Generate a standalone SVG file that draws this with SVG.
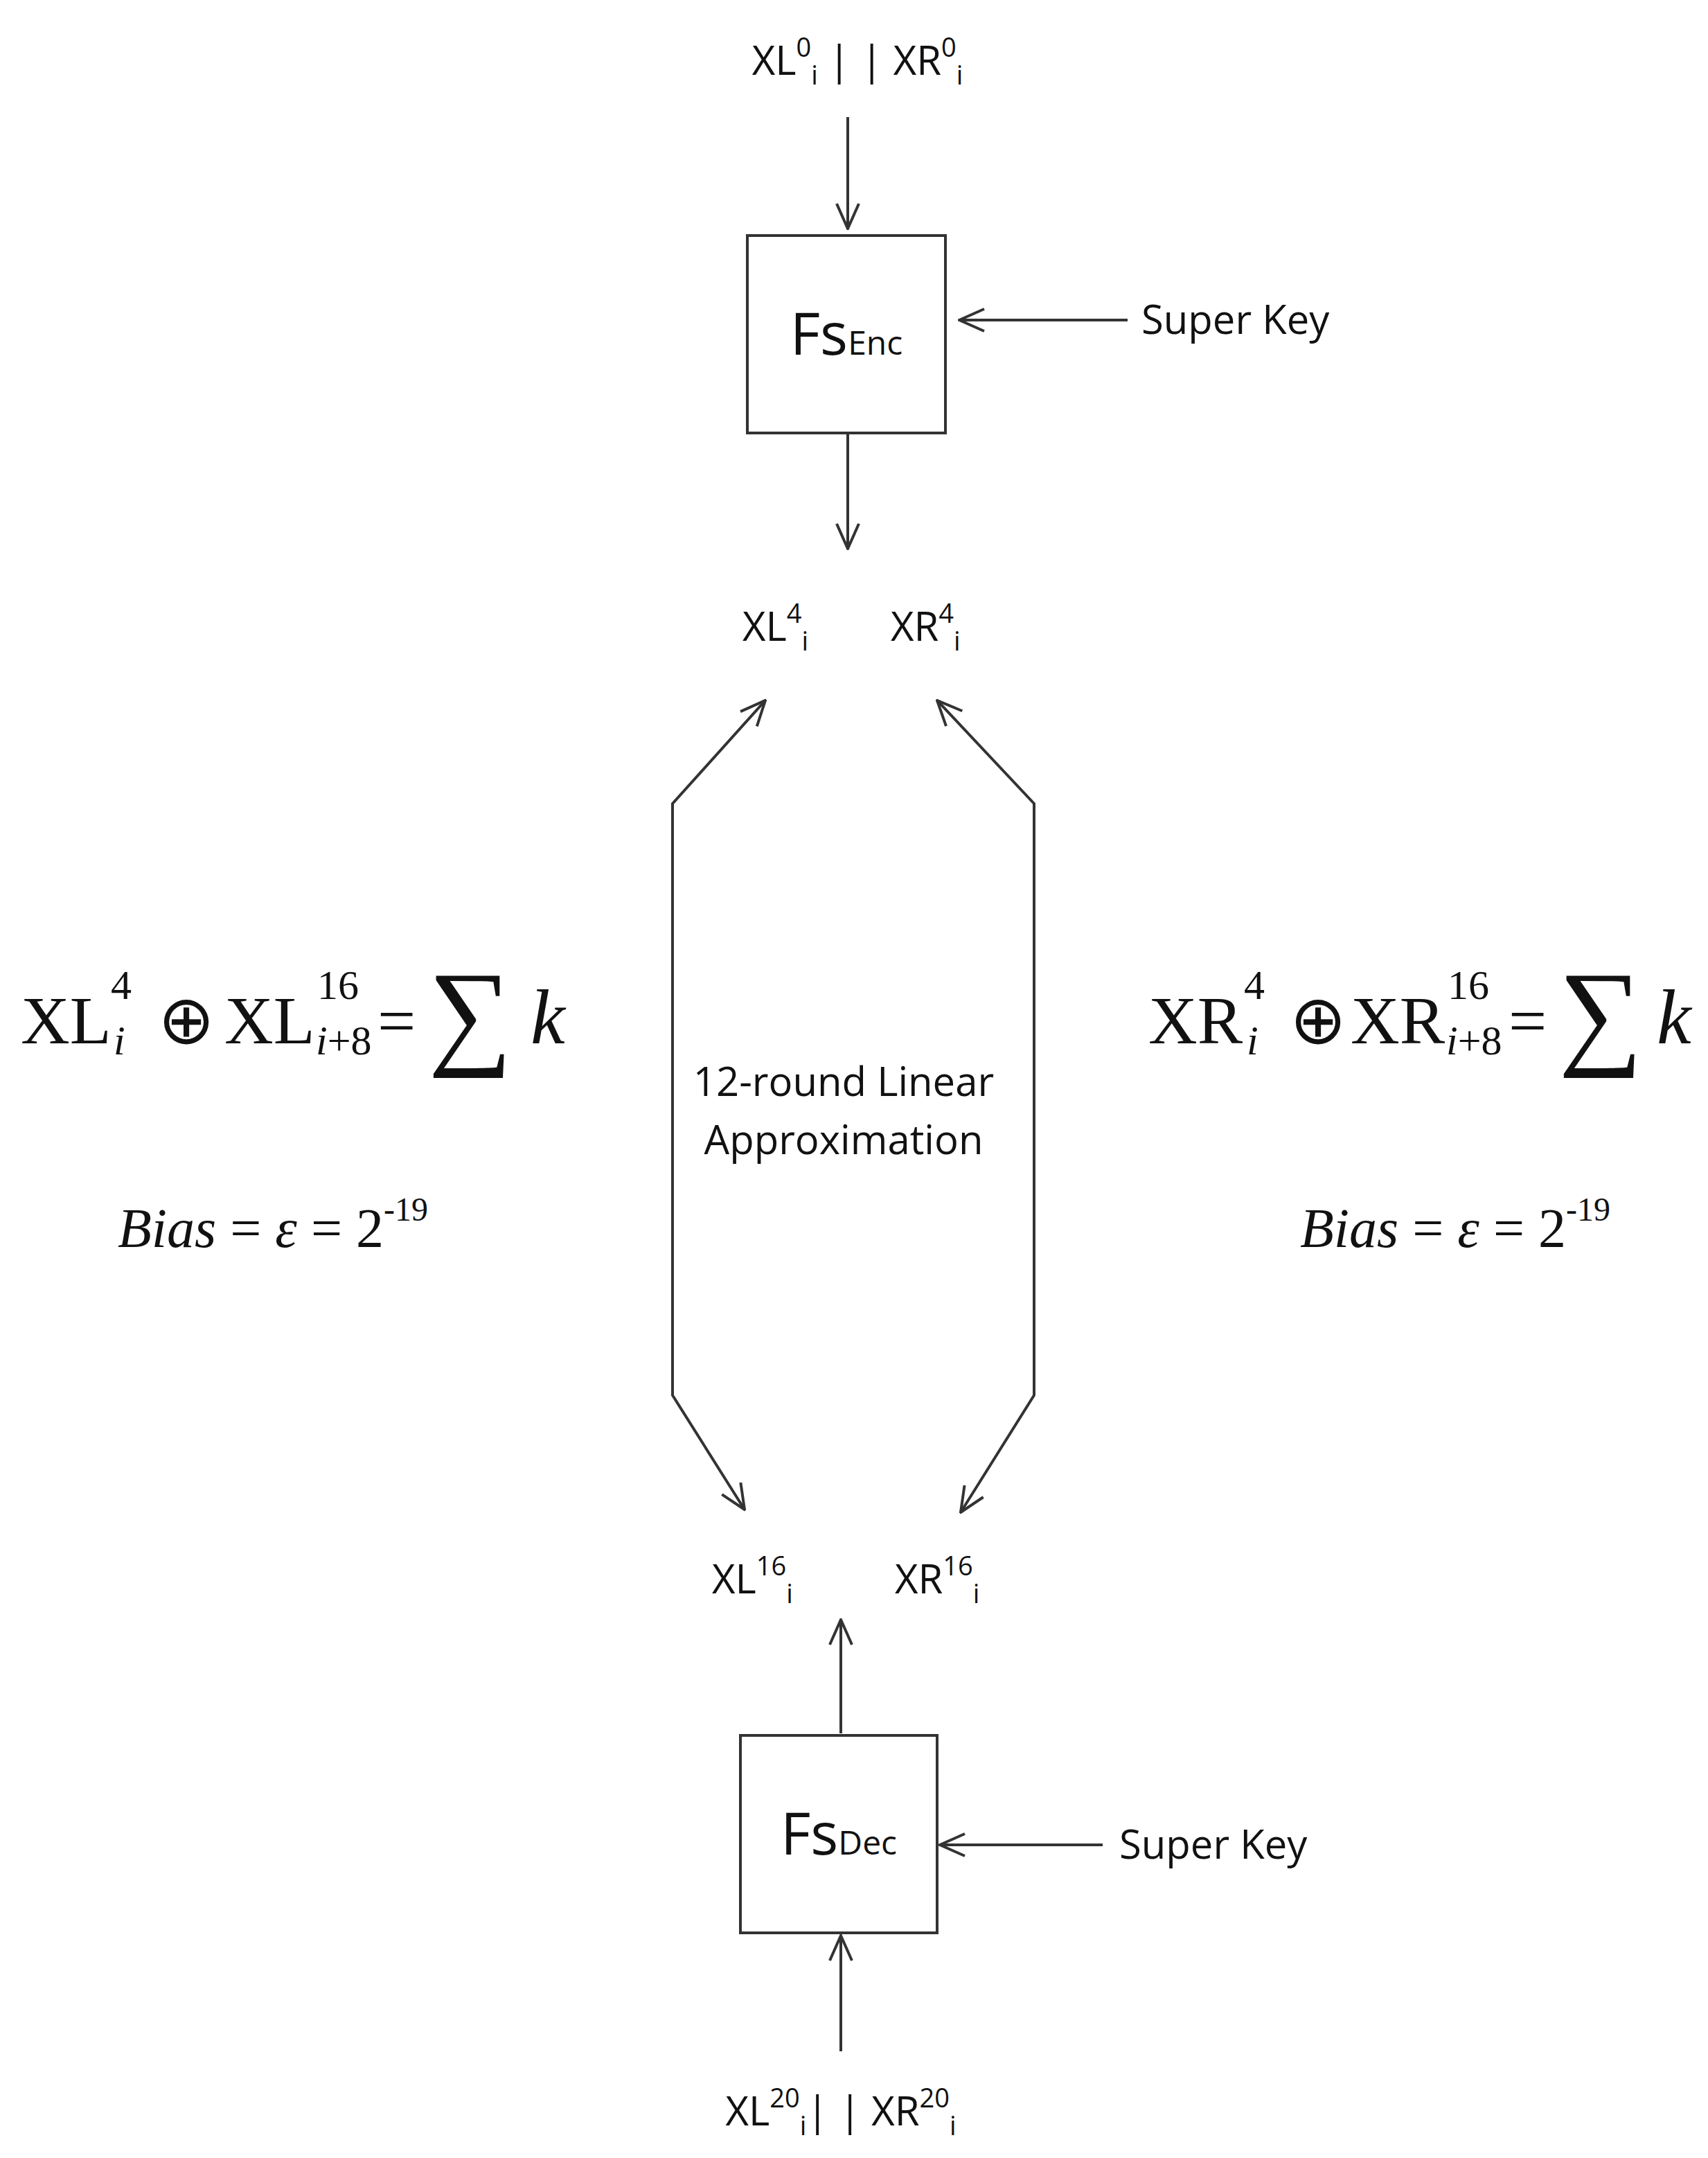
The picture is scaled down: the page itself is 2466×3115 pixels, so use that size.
<svg xmlns="http://www.w3.org/2000/svg" width="2466" height="3115" viewBox="0 0 2466 3115">
<style>
.t{font-family:"Open Sans","Liberation Sans",sans-serif;fill:#111;font-size:58px}
.f{font-family:"Open Sans","Liberation Sans",sans-serif;fill:#111;font-size:84px}
.m{font-family:"Liberation Serif",serif;fill:#111;font-size:98px}
.s{font-family:"Liberation Serif",serif;fill:#111;font-size:60px}
.si{font-family:"Liberation Serif",serif;fill:#111;font-size:60px;font-style:italic}
.sg{font-family:"Liberation Serif","DejaVu Serif",serif;fill:#111;font-size:170px}
.k{font-family:"Liberation Serif",serif;fill:#111;font-size:112px;font-style:italic}
.bi{font-family:"Liberation Serif",serif;fill:#111;font-size:80px;font-style:italic}
.l{stroke:#333;stroke-width:4;fill:none}
.b{stroke:#333;stroke-width:4;fill:#fff}
</style>
<defs><marker id="a" viewBox="0 0 20 20" refX="19" refY="10" markerWidth="40" markerHeight="40" orient="auto-start-reverse" markerUnits="userSpaceOnUse"><path d="M1,2 L19,10 L1,18" fill="none" stroke="#333" stroke-width="2"/></marker></defs>
<rect width="2466" height="3115" fill="#fff"/>
<g id="connectors">
<line class="l" x1="1224" y1="169" x2="1224" y2="330" marker-end="url(#a)"/>
<line class="l" x1="1628" y1="462" x2="1385" y2="462" marker-end="url(#a)"/>
<line class="l" x1="1224" y1="627" x2="1224" y2="792" marker-end="url(#a)"/>
<path class="l" d="M1075,2179 L971,2014 L971,1160 L1105,1011" marker-start="url(#a)" marker-end="url(#a)"/>
<path class="l" d="M1387,2183 L1493,2014 L1493,1160 L1353,1011" marker-start="url(#a)" marker-end="url(#a)"/>
<line class="l" x1="1214" y1="2502" x2="1214" y2="2338" marker-end="url(#a)"/>
<line class="l" x1="1592" y1="2663" x2="1357" y2="2663" marker-end="url(#a)"/>
<line class="l" x1="1214" y1="2961" x2="1214" y2="2794" marker-end="url(#a)"/>
</g>
<g id="in-top"><text class="t" x="1238" y="108" text-anchor="middle">XL<tspan font-size="38" dy="-26">0</tspan><tspan font-size="38" dy="40">i</tspan><tspan dy="-14"> | | XR</tspan><tspan font-size="38" dy="-26">0</tspan><tspan font-size="38" dy="40">i</tspan></text></g>
<g id="fsenc"><rect class="b" x="1079" y="340" width="286" height="285"/><text class="f" x="1222" y="512" text-anchor="middle">Fs<tspan font-size="48">Enc</tspan></text></g>
<g id="sk1"><text class="t" x="1648" y="482">Super Key</text></g>
<g id="xl4"><text class="t" x="1072" y="925">XL<tspan font-size="38" dy="-26">4</tspan><tspan font-size="38" dy="40">i</tspan></text></g>
<g id="xr4"><text class="t" x="1286" y="925">XR<tspan font-size="38" dy="-26">4</tspan><tspan font-size="38" dy="40">i</tspan></text></g>
<g id="lin"><text class="t" x="1218" y="1582" text-anchor="middle">12-round Linear</text><text class="t" x="1218" y="1666" text-anchor="middle">Approximation</text></g>
<g id="xl16"><text class="t" x="1028" y="2300">XL<tspan font-size="38" dy="-26">16</tspan><tspan font-size="38" dy="40">i</tspan></text></g>
<g id="xr16"><text class="t" x="1292" y="2300">XR<tspan font-size="38" dy="-26">16</tspan><tspan font-size="38" dy="40">i</tspan></text></g>
<g id="fsdec"><rect class="b" x="1069" y="2505" width="284" height="285"/><text class="f" x="1211" y="2677" text-anchor="middle">Fs<tspan font-size="48">Dec</tspan></text></g>
<g id="sk2"><text class="t" x="1616" y="2683">Super Key</text></g>
<g id="in-bot"><text class="t" x="1214" y="3068" text-anchor="middle">XL<tspan font-size="38" dy="-26">20</tspan><tspan font-size="38" dy="40">i</tspan><tspan dy="-14">| | XR</tspan><tspan font-size="38" dy="-26">20</tspan><tspan font-size="38" dy="40">i</tspan></text></g>
<g id="eqL">
<text class="m" x="30" y="1506">XL</text>
<text class="s" x="160" y="1442">4</text>
<text class="si" x="164" y="1522">i</text>
<text class="m" x="228" y="1506">⊕</text>
<text class="m" x="324" y="1506">XL</text>
<text class="s" x="458" y="1442">16</text>
<text class="si" x="456" y="1522">i<tspan font-style="normal">+8</tspan></text>
<text class="m" x="545" y="1506">=</text>
<text class="sg" x="618" y="1520">∑</text>
<text class="k" x="766" y="1506">k</text>
</g>
<g id="biasL"><text class="bi" x="170" y="1800">Bias <tspan font-style="normal">=</tspan> ε <tspan font-style="normal">= 2</tspan><tspan font-style="normal" font-size="48" dy="-38">-19</tspan></text></g>
<g id="eqR">
<text class="m" x="1658" y="1506">XR</text>
<text class="s" x="1796" y="1442">4</text>
<text class="si" x="1800" y="1522">i</text>
<text class="m" x="1862" y="1506">⊕</text>
<text class="m" x="1950" y="1506">XR</text>
<text class="s" x="2090" y="1442">16</text>
<text class="si" x="2088" y="1522">i<tspan font-style="normal">+8</tspan></text>
<text class="m" x="2178" y="1506">=</text>
<text class="sg" x="2250" y="1520">∑</text>
<text class="k" x="2392" y="1506">k</text>
</g>
<g id="biasR"><text class="bi" x="1877" y="1800">Bias <tspan font-style="normal">=</tspan> ε <tspan font-style="normal">= 2</tspan><tspan font-style="normal" font-size="48" dy="-38">-19</tspan></text></g>
</svg>
